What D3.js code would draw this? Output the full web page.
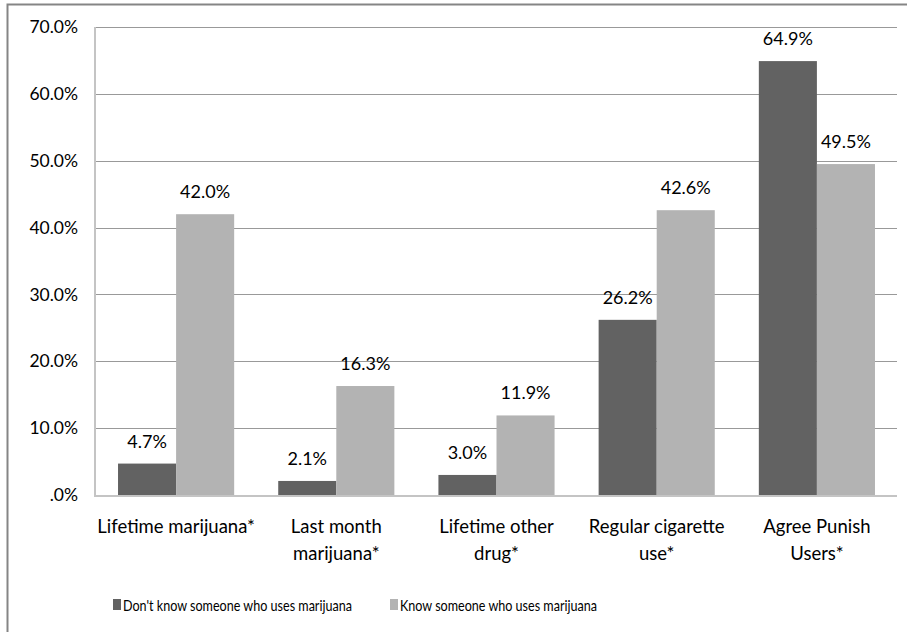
<!DOCTYPE html>
<html>
<head>
<meta charset="utf-8">
<script src="https://cdn.jsdelivr.net/npm/d3@7"></script>
<style>
  html, body { margin: 0; padding: 0; background: #fff; }
  svg { display: block; }
</style>
</head>
<body>
<svg id="chart" width="907" height="632"></svg>
<script>
// Outcome categories (each entry split into its printed lines)
const categoryLines = [
  ["Lifetime marijuana*"],
  ["Last month", "marijuana*"],
  ["Lifetime other", "drug*"],
  ["Regular cigarette", "use*"],
  ["Agree Punish", "Users*"]
];
const categories = categoryLines.map(l => l.join(" "));

// Percentages for each group
const seriesNames = ["Don't know someone who uses marijuana", "Know someone who uses marijuana"];
const dontKnowValues = [4.7, 2.1, 3.0, 26.2, 64.9];
const knowValues = [42.0, 16.3, 11.9, 42.6, 49.5];

// Y axis ticks and their printed labels
const yTickValues = [0, 10, 20, 30, 40, 50, 60, 70];
const yTickLabels = [".0%", "10.0%", "20.0%", "30.0%", "40.0%", "50.0%", "60.0%", "70.0%"];

const colors = ["#626262", "#b3b3b3"];
const font = "Lato, 'Open Sans', sans-serif";
const fontSize = 18;

const svg = d3.select("#chart");

// Chart frame
svg.append("rect")
  .attr("x", 7.5).attr("y", 4.5)
  .attr("width", 1000).attr("height", 1000)
  .attr("fill", "none")
  .attr("stroke", "#858585")
  .attr("stroke-width", 2);

const plot = { left: 96, right: 897, top: 27, bottom: 495 };

const x0 = d3.scaleBand()
  .domain(categories)
  .range([plot.left, plot.right])
  .paddingInner(0.275)
  .paddingOuter(0.1375);

const x1 = d3.scaleBand()
  .domain([0, 1])
  .range([0, x0.bandwidth()]);

const y = d3.scaleLinear()
  .domain([0, 70])
  .range([plot.bottom, plot.top]);

// Gridlines
svg.append("g")
  .selectAll("line")
  .data(yTickValues.filter(v => v > 0))
  .join("line")
  .attr("x1", plot.left).attr("x2", plot.right)
  .attr("y1", d => Math.round(y(d)) + 0.5)
  .attr("y2", d => Math.round(y(d)) + 0.5)
  .attr("stroke", "#999")
  .attr("stroke-width", 1);

// Y axis labels
const yAxis = d3.axisLeft(y)
  .tickValues(yTickValues)
  .tickFormat((d, i) => yTickLabels[i])
  .tickSize(0)
  .tickPadding(18);

const gy = svg.append("g")
  .attr("transform", `translate(${plot.left},0)`)
  .call(yAxis);
gy.select(".domain").remove();
gy.selectAll("text")
  .attr("font-family", font)
  .attr("font-size", 17.5)
  .attr("fill", "#000");

// Bars
const groups = svg.append("g")
  .selectAll("g")
  .data(categories)
  .join("g")
  .attr("transform", d => `translate(${x0(d)},0)`);

const pairs = (d, i) => [
  { s: 0, v: dontKnowValues[i] },
  { s: 1, v: knowValues[i] }
];

groups.selectAll("rect")
  .data((d, i) => pairs(d, i))
  .join("rect")
  .attr("x", d => x1(d.s))
  .attr("width", x1.bandwidth())
  .attr("y", d => y(d.v))
  .attr("height", d => y(0) - y(d.v))
  .attr("fill", d => colors[d.s]);

// Value labels
groups.selectAll("text.val")
  .data((d, i) => pairs(d, i))
  .join("text")
  .attr("class", "val")
  .attr("x", d => x1(d.s) + x1.bandwidth() / 2)
  .attr("y", d => y(d.v) - 16)
  .attr("text-anchor", "middle")
  .attr("font-family", font)
  .attr("font-size", fontSize)
  .attr("fill", "#000")
  .text(d => d.v.toFixed(1) + "%");

// Axis lines
svg.append("line")
  .attr("x1", plot.left - 1).attr("x2", plot.left - 1)
  .attr("y1", plot.top).attr("y2", plot.bottom + 1)
  .attr("stroke", "#c4c4c4").attr("stroke-width", 2);
svg.append("line")
  .attr("x1", plot.left - 2).attr("x2", plot.right)
  .attr("y1", plot.bottom + 1).attr("y2", plot.bottom + 1)
  .attr("stroke", "#c4c4c4").attr("stroke-width", 2);

// Category labels
const xl = svg.append("g")
  .selectAll("text")
  .data(categories)
  .join("text")
  .attr("x", d => x0(d) + x0.bandwidth() / 2)
  .attr("y", 533)
  .attr("text-anchor", "middle")
  .attr("font-family", font)
  .attr("font-size", 18.5)
  .attr("fill", "#000");
xl.selectAll("tspan")
  .data((d, i) => categoryLines[i])
  .join("tspan")
  .attr("x", function () { return d3.select(this.parentNode).attr("x"); })
  .attr("dy", (d, i) => i === 0 ? 0 : 27)
  .text(d => d);

// Legend
const legendItems = [
  { name: seriesNames[0], sx: 113, tx: 123, w: 229 },
  { name: seriesNames[1], sx: 390, tx: 400, w: 197 }
];
const lg = svg.append("g");
lg.selectAll("rect")
  .data(legendItems)
  .join("rect")
  .attr("x", d => d.sx).attr("y", 599)
  .attr("width", 8).attr("height", 11)
  .attr("fill", (d, i) => colors[i]);
lg.selectAll("text")
  .data(legendItems)
  .join("text")
  .attr("x", d => d.tx).attr("y", 611)
  .attr("font-family", font)
  .attr("font-size", 16)
  .attr("textLength", d => d.w)
  .attr("lengthAdjust", "spacingAndGlyphs")
  .attr("fill", "#000")
  .text(d => d.name);
</script>
</body>
</html>
